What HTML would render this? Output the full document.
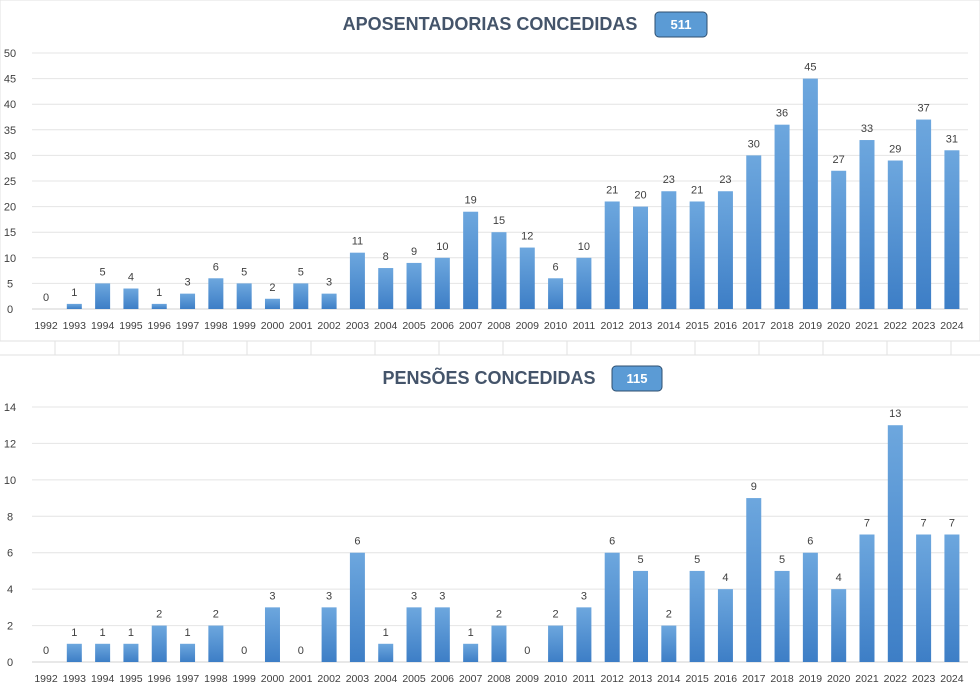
<!DOCTYPE html>
<html><head><meta charset="utf-8"><style>
body{margin:0;background:#fff;font-family:"Liberation Sans",sans-serif;}
svg text{font-family:"Liberation Sans",sans-serif;}
</style></head><body>
<svg id="c" width="980" height="691" xmlns="http://www.w3.org/2000/svg">
<defs><linearGradient id="g" x1="0" y1="0" x2="0" y2="1"><stop offset="0" stop-color="#6da7de"/><stop offset="1" stop-color="#3d7ec6"/></linearGradient></defs>
<rect x="0" y="0" width="980" height="341" fill="none" stroke="#e2e2e2"/>
<line x1="0" y1="355" x2="980" y2="355" stroke="#e2e2e2"/>
<g id="sep"></g>
<g id="top"></g><g id="bot"></g>
</svg>
<script>
const years=["1992","1993","1994","1995","1996","1997","1998","1999","2000","2001","2002","2003","2004","2005","2006","2007","2008","2009","2010","2011","2012","2013","2014","2015","2016","2017","2018","2019","2020","2021","2022","2023","2024"];
const aposentadorias=[0,1,5,4,1,3,6,5,2,5,3,11,8,9,10,19,15,12,6,10,21,20,23,21,23,30,36,45,27,33,29,37,31];
const pensoes=[0,1,1,1,2,1,2,0,3,0,3,6,1,3,3,1,2,0,2,3,6,5,2,5,4,9,5,6,4,7,13,7,7];
const topTicks=[0,5,10,15,20,25,30,35,40,45,50];
const botTicks=[0,2,4,6,8,10,12,14];
const NS="http://www.w3.org/2000/svg";
function mk(p,t,a,txt){const e=document.createElementNS(NS,t);for(const k in a)e.setAttribute(k,a[k]);if(txt!==undefined)e.textContent=txt;p.appendChild(e);return e;}
const sep=document.getElementById('sep');
for(let x=55;x<980;x+=64){const l=mk(sep,'line',{x1:x,y1:341,x2:x,y2:355,stroke:'#e2e2e2'});

}
function chart(g,vals,ticks,y0,y1,max,title,total,tx,bx,by,bw){
 const xs=i=>46+i*28.31, ys=v=>y0-(v/max)*(y0-y1);
 ticks.forEach(t=>{const y=ys(t);
  const l=mk(g,'line',{x1:32,y1:y,x2:968,y2:y,stroke:t===0?'#d0d0d0':'#e4e4e4'});
  
  
  const tl=mk(g,'text',{x:10,y:y+4,'font-size':11,fill:'#404040','text-anchor':'middle'},t);
  
  });
 vals.forEach((v,i)=>{const x=xs(i),y=ys(v);
  const r=mk(g,'rect',{x:x-7.5,y:y,width:15,height:y0-y,fill:'url(#g)'});
  
  
  const lb=mk(g,'text',{x:x,y:y-8,'font-size':11,fill:'#404040','text-anchor':'middle'},v);
  
  
  const xl=mk(g,'text',{x:x,y:y0+20,'font-size':10.5,fill:'#404040','text-anchor':'middle'},years[i]);
  
  });
 const t=mk(g,'text',{x:tx,y:by+18,'font-size':18,'font-weight':'bold',fill:'#44546a','text-anchor':'middle'},title);
 
 
 const b=mk(g,'rect',{x:bx,y:by,width:bw,height:25,rx:4,fill:'#5b9bd5',stroke:'#2f4f6f'});
 
 
 const bt=mk(g,'text',{x:bx+bw/2,y:by+17,'font-size':13,'font-weight':'bold',fill:'#fff','text-anchor':'middle'},total);
 
 
}
chart(document.getElementById('top'),aposentadorias,topTicks,309,53,50,'APOSENTADORIAS CONCEDIDAS','511',490,655,12,52);
chart(document.getElementById('bot'),pensoes,botTicks,662,407,14,'PENSÕES CONCEDIDAS','115',489,612,366,50);
</script>
</body></html>
